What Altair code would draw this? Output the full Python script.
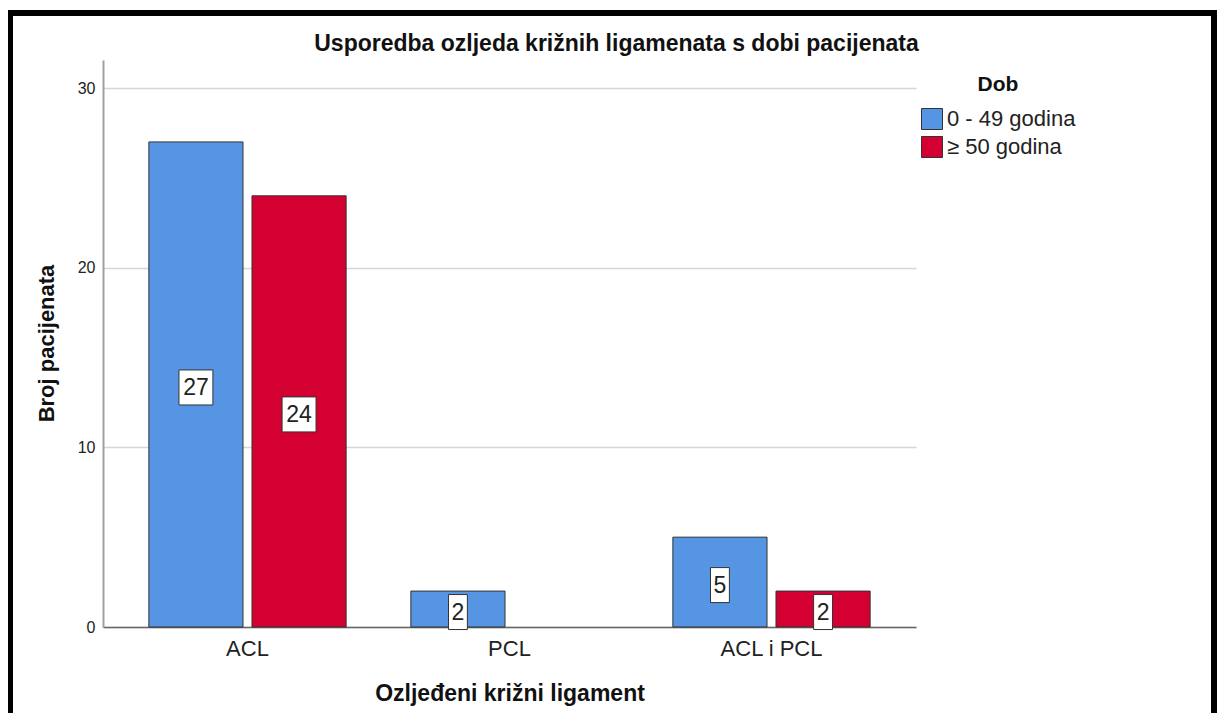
import altair as alt
import pandas as pd

categories = ["ACL", "PCL", "ACL i PCL"]
groups = ["0 - 49 godina", "≥ 50 godina"]
young = [27, 2, 5]
old = [24, None, 2]
colors = ["#5595E3", "#D50032"]
y_ticks = [0, 10, 20, 30]

rows = []
for c, v in zip(categories, young):
    if v is not None:
        rows.append({"lig": c, "dob": groups[0], "value": v})
for c, v in zip(categories, old):
    if v is not None:
        rows.append({"lig": c, "dob": groups[1], "value": v})
df = pd.DataFrame(rows)

W, H = 813, 567
FONT = "Liberation Sans, Arial, sans-serif"
NARROW = "Liberation Sans Narrow, Arial Narrow, Liberation Sans, sans-serif"

xenc = alt.X("lig:N", sort=categories,
             scale=alt.Scale(paddingInner=0.247, paddingOuter=0.175),
             axis=alt.Axis(title="Ozljeđeni križni ligament", labelAngle=0,
                           labelFontSize=22, labelFont=FONT, labelColor="#222",
                           labelBaseline="top", labelPadding=11, ticks=False,
                           domainColor="#666", domainWidth=1.5,
                           titleFontSize=23, titleFont=FONT, titleFontWeight="bold",
                           titleColor="#111", titleY=73, titleBaseline="alphabetic",
                           grid=False))
xoff = alt.XOffset("dob:N", sort=groups, scale=alt.Scale(paddingInner=0.087, paddingOuter=0))
yscale = alt.Scale(domain=[0, 31.56], nice=False, zero=True)

base = alt.Chart(df)

bars = base.mark_bar(stroke="#333", strokeWidth=1).encode(
    x=xenc,
    xOffset=xoff,
    y=alt.Y("value:Q", scale=yscale,
            axis=alt.Axis(title="Broj pacijenata", values=y_ticks, ticks=False,
                          labelFontSize=16, labelFont=FONT, labelColor="#222",
                          labelPadding=8, domainColor="#a0a0a0", domainWidth=2,
                          gridColor="#d6d6d6", gridWidth=1.5,
                          titleFontSize=22, titleFont=FONT, titleFontWeight="bold",
                          titleColor="#111", titleAngle=270, titleX=-50, titleY=283,
                          titleAlign="center", titleBaseline="alphabetic")),
    color=alt.Color("dob:N", sort=groups,
                    scale=alt.Scale(domain=groups, range=colors),
                    legend=alt.Legend(title="Dob", orient="none", legendX=818, legendY=14,
                                      titleFontSize=21, titleFont=FONT, titleFontWeight="bold",
                                      titleColor="#111", titleAnchor="middle", titlePadding=13,
                                      labelFontSize=22, labelFont=FONT, labelColor="#222",
                                      labelOffset=4, symbolType="square", symbolSize=441,
                                      symbolStrokeColor="#333", symbolStrokeWidth=1,
                                      symbolOpacity=1, rowPadding=2)),
)

lab = base.transform_calculate(mid="datum.value / 2")

box2 = lab.transform_filter("datum.value >= 10").mark_point(
    shape="M-0.97,-1L0.97,-1L0.97,1L-0.97,1Z", size=1225, filled=True,
    fill="white", stroke="#333", strokeWidth=1, opacity=1, yOffset=3
).encode(x=alt.X("lig:N", sort=categories), xOffset=xoff,
         y=alt.Y("mid:Q", scale=yscale))

box1 = lab.transform_filter("datum.value < 10").mark_point(
    shape="M-0.54,-1L0.54,-1L0.54,1L-0.54,1Z", size=1225, filled=True,
    fill="white", stroke="#333", strokeWidth=1, opacity=1, yOffset=3
).encode(x=alt.X("lig:N", sort=categories), xOffset=xoff,
         y=alt.Y("mid:Q", scale=yscale))

txt = lab.mark_text(fontSize=23, font=NARROW, color="#222", baseline="middle",
                    align="center", yOffset=4).encode(
    x=alt.X("lig:N", sort=categories), xOffset=xoff,
    y=alt.Y("mid:Q", scale=yscale), text="value:Q")

one = alt.Chart(pd.DataFrame({"k": [0]}))
top_rule = one.mark_rule(color="black", strokeWidth=6).encode(
    x=alt.value(-96), x2=alt.value(1114), y=alt.value(-47))
left_rule = one.mark_rule(color="black", strokeWidth=6).encode(
    x=alt.value(-93), y=alt.value(-50), y2=alt.value(660))
right_rule = one.mark_rule(color="black", strokeWidth=6).encode(
    x=alt.value(1111), y=alt.value(-50), y2=alt.value(660))

chart = alt.layer(bars, box2, box1, txt, top_rule, left_rule, right_rule).properties(
    width=W, height=H,
    background="white",
    title=alt.TitleParams("Usporedba ozljeda križnih ligamenata s dobi pacijenata",
                          fontSize=23, font=FONT, fontWeight="bold", color="#111",
                          anchor="middle", dx=107, dy=55, offset=6),
    autosize=alt.AutoSizeParams(type="none"),
    padding={"left": 95, "top": 52, "right": 301, "bottom": 86},
).configure_view(strokeWidth=0, stroke="transparent")

chart.save("out.html", embed_options={"renderer": "svg", "actions": False})
